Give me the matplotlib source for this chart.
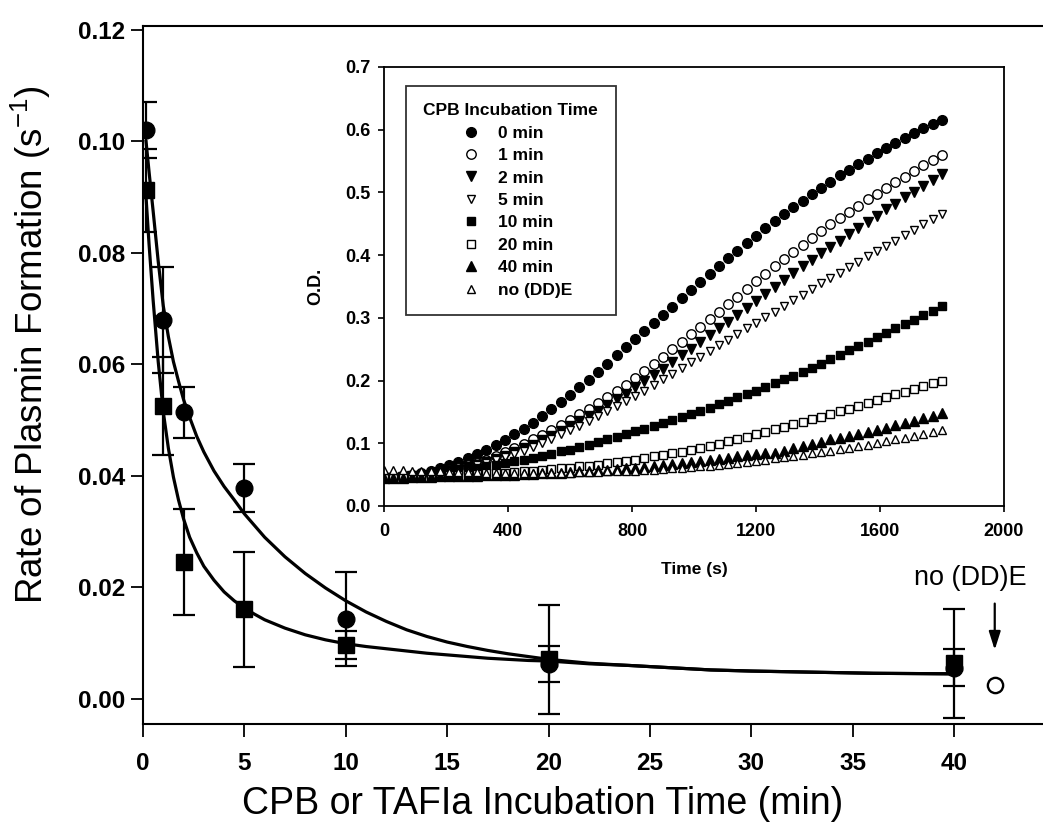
import matplotlib
matplotlib.use('Agg')
import matplotlib.pyplot as plt
import numpy as np

# ---------------- main panel data ----------------
incub_time = [0.15, 1, 2, 5, 10, 20, 40]
rate_circle = [0.102, 0.068, 0.0514, 0.0379, 0.0143, 0.0063, 0.0056]
err_circle = [0.005, 0.0095, 0.0046, 0.0043, 0.0084, 0.0032, 0.0033]
rate_square = [0.0912, 0.0525, 0.0245, 0.0161, 0.0097, 0.0071, 0.0064]
err_square = [0.0075, 0.0088, 0.0095, 0.0103, 0.0025, 0.0098, 0.0098]
no_dde_x = [42.0]
no_dde_rate = [0.0025]

# fitted curves
fit_x = [0.15, 0.3, 0.5, 0.75, 1.0, 1.25, 1.5, 1.75, 2.0, 2.3, 2.65, 3.0, 3.5, 4.0,
         4.5, 5.0, 5.5, 6.0, 7.0, 8.0, 9.0, 10.0, 11.0, 12.0, 13.0, 14.0, 15.0,
         16.0, 17.0, 18.0, 19.0, 20.0, 22.0, 24.0, 26.0, 28.0, 30.0, 33.0, 36.0, 40.0]
fit_circle_y = [0.100, 0.0945, 0.0875, 0.0785, 0.0705, 0.065, 0.0605, 0.057, 0.0537,
                0.0505, 0.0471, 0.0443, 0.0409, 0.0381, 0.0357, 0.0332, 0.0311,
                0.0290, 0.0255, 0.0225, 0.0199, 0.0176, 0.0156, 0.0139, 0.0124,
                0.0112, 0.0102, 0.0094, 0.0087, 0.0081, 0.0076, 0.0071, 0.0064,
                0.0060, 0.0056, 0.0052, 0.0050, 0.0048, 0.0046, 0.0045]
fit_square_y = [0.090, 0.0815, 0.0715, 0.0605, 0.0515, 0.0450, 0.0398, 0.0357,
                0.0323, 0.0290, 0.0262, 0.0238, 0.0213, 0.0192, 0.0176, 0.0163,
                0.0152, 0.0142, 0.0127, 0.0115, 0.0106, 0.0099, 0.0094, 0.0090,
                0.0086, 0.0082, 0.0079, 0.0076, 0.0073, 0.0071, 0.0069, 0.0068,
                0.0063, 0.0060, 0.0056, 0.0052, 0.0050, 0.0048, 0.0046, 0.0045]

# ---------------- inset data ----------------
time_s = np.arange(0, 1801, 30)
od_0min = [0.045, 0.046, 0.047, 0.049, 0.052, 0.056, 0.060, 0.065, 0.070, 0.076,
           0.083, 0.090, 0.097, 0.105, 0.114, 0.123, 0.133, 0.143, 0.154, 0.165,
           0.177, 0.189, 0.201, 0.214, 0.227, 0.240, 0.253, 0.266, 0.279, 0.292,
           0.305, 0.318, 0.331, 0.344, 0.357, 0.370, 0.383, 0.395, 0.407, 0.419,
           0.431, 0.443, 0.454, 0.465, 0.476, 0.487, 0.497, 0.507, 0.517, 0.527,
           0.536, 0.545, 0.554, 0.563, 0.571, 0.579, 0.587, 0.595, 0.602, 0.609, 0.616]
od_1min = [0.045, 0.045, 0.046, 0.047, 0.049, 0.051, 0.054, 0.057, 0.061, 0.065,
           0.069, 0.074, 0.080, 0.086, 0.092, 0.099, 0.106, 0.113, 0.121, 0.129,
           0.137, 0.146, 0.155, 0.164, 0.173, 0.183, 0.193, 0.204, 0.215, 0.226,
           0.238, 0.250, 0.262, 0.274, 0.286, 0.298, 0.310, 0.322, 0.334, 0.346,
           0.358, 0.370, 0.382, 0.394, 0.405, 0.416, 0.427, 0.438, 0.449, 0.459,
           0.469, 0.479, 0.489, 0.498, 0.507, 0.516, 0.525, 0.534, 0.543, 0.552, 0.560]
od_2min = [0.045, 0.045, 0.046, 0.047, 0.048, 0.050, 0.052, 0.055, 0.058, 0.062,
           0.066, 0.070, 0.075, 0.080, 0.086, 0.092, 0.098, 0.105, 0.112, 0.119,
           0.127, 0.135, 0.143, 0.152, 0.161, 0.170, 0.179, 0.189, 0.199, 0.209,
           0.219, 0.229, 0.240, 0.250, 0.261, 0.272, 0.283, 0.294, 0.305, 0.316,
           0.327, 0.338, 0.349, 0.360, 0.371, 0.382, 0.392, 0.403, 0.413, 0.423,
           0.433, 0.443, 0.453, 0.463, 0.473, 0.482, 0.492, 0.501, 0.511, 0.520, 0.530]
od_5min = [0.045, 0.045, 0.046, 0.047, 0.048, 0.050, 0.052, 0.055, 0.058, 0.061,
           0.065, 0.069, 0.073, 0.078, 0.083, 0.088, 0.094, 0.100, 0.107, 0.114,
           0.121, 0.128, 0.135, 0.143, 0.151, 0.159, 0.167, 0.175, 0.184, 0.193,
           0.202, 0.211, 0.220, 0.229, 0.238, 0.247, 0.256, 0.265, 0.274, 0.283,
           0.292, 0.301, 0.310, 0.319, 0.328, 0.337, 0.346, 0.355, 0.363, 0.372,
           0.381, 0.389, 0.398, 0.406, 0.415, 0.423, 0.432, 0.440, 0.449, 0.457, 0.466]
od_10min = [0.045, 0.046, 0.047, 0.048, 0.050, 0.051, 0.053, 0.055, 0.057, 0.059,
            0.061, 0.063, 0.066, 0.068, 0.071, 0.074, 0.077, 0.080, 0.083, 0.087,
            0.090, 0.094, 0.098, 0.102, 0.106, 0.110, 0.114, 0.119, 0.123, 0.128,
            0.132, 0.137, 0.142, 0.147, 0.152, 0.157, 0.162, 0.168, 0.173, 0.179,
            0.184, 0.190, 0.196, 0.202, 0.208, 0.214, 0.220, 0.227, 0.234, 0.241,
            0.248, 0.255, 0.262, 0.269, 0.276, 0.283, 0.290, 0.297, 0.304, 0.311, 0.319]
od_20min = [0.045, 0.045, 0.046, 0.046, 0.047, 0.047, 0.048, 0.049, 0.049, 0.050,
            0.051, 0.052, 0.052, 0.053, 0.054, 0.055, 0.056, 0.058, 0.059, 0.060,
            0.061, 0.063, 0.064, 0.066, 0.068, 0.070, 0.072, 0.074, 0.077, 0.079,
            0.081, 0.084, 0.086, 0.089, 0.092, 0.096, 0.099, 0.103, 0.107, 0.110,
            0.114, 0.118, 0.122, 0.126, 0.130, 0.134, 0.138, 0.142, 0.147, 0.151,
            0.155, 0.160, 0.164, 0.169, 0.173, 0.178, 0.182, 0.187, 0.191, 0.196, 0.200]
od_40min = [0.045, 0.045, 0.045, 0.046, 0.046, 0.046, 0.047, 0.047, 0.047, 0.048,
            0.048, 0.049, 0.049, 0.050, 0.050, 0.051, 0.051, 0.052, 0.053, 0.053,
            0.054, 0.055, 0.056, 0.057, 0.058, 0.059, 0.060, 0.061, 0.062, 0.064,
            0.065, 0.067, 0.068, 0.070, 0.071, 0.073, 0.075, 0.077, 0.079, 0.081,
            0.083, 0.084, 0.085, 0.088, 0.092, 0.095, 0.099, 0.102, 0.106, 0.109,
            0.112, 0.115, 0.118, 0.121, 0.125, 0.129, 0.132, 0.136, 0.140, 0.144, 0.148]
od_nodde = [0.058, 0.057, 0.057, 0.056, 0.056, 0.055, 0.055, 0.054, 0.054, 0.054,
            0.054, 0.053, 0.053, 0.053, 0.053, 0.053, 0.053, 0.053, 0.053, 0.053,
            0.053, 0.054, 0.054, 0.054, 0.055, 0.055, 0.056, 0.056, 0.057, 0.058,
            0.059, 0.060, 0.061, 0.062, 0.063, 0.064, 0.066, 0.067, 0.069, 0.070,
            0.072, 0.074, 0.076, 0.078, 0.080, 0.082, 0.084, 0.086, 0.088, 0.091,
            0.093, 0.095, 0.098, 0.100, 0.103, 0.106, 0.109, 0.112, 0.115, 0.118, 0.121]

inset_labels = ['0 min', '1 min', '2 min', '5 min', '10 min', '20 min', '40 min', 'no (DD)E']
inset_series = [od_0min, od_1min, od_2min, od_5min, od_10min, od_20min, od_40min, od_nodde]
inset_markers = ['o', 'o', 'v', 'v', 's', 's', '^', '^']
inset_filled = [True, False, True, False, True, False, True, False]
inset_msize = [7.0, 6.8, 6.8, 6.3, 6.0, 6.0, 6.8, 6.3]

FONT = ['Liberation Sans', 'DejaVu Sans']
plt.rcParams['font.family'] = FONT

fig = plt.figure(figsize=(10.43, 8.25), dpi=100)

# ---------------- main axes ----------------
ax = fig.add_axes([0.1371, 0.1224, 0.8629, 0.8461])
ax.plot(fit_x, fit_circle_y, color='black', lw=2.3, zorder=2)
ax.plot(fit_x, fit_square_y, color='black', lw=2.3, zorder=2)
ax.errorbar(incub_time, rate_circle, yerr=err_circle, fmt='o', color='black',
            ms=12, elinewidth=1.6, capsize=8, capthick=1.6, zorder=3)
ax.errorbar(incub_time, rate_square, yerr=err_square, fmt='s', color='black',
            ms=11, elinewidth=1.6, capsize=8, capthick=1.6, zorder=3)
ax.plot(no_dde_x, no_dde_rate, 'o', mfc='white', mec='black', mew=1.7, ms=11,
        clip_on=False, zorder=4)
ax.annotate('', xy=(42.0, 0.0083), xytext=(42.0, 0.0176),
            arrowprops=dict(arrowstyle='-|>,head_length=1.1,head_width=0.35',
                            color='black', lw=1.6))
ax.text(40.8, 0.0217, 'no (DD)E', fontsize=19.5, ha='center', va='center')

ax.set_xlim(0, 44.38)
ax.set_ylim(-0.0045, 0.1207)
ax.set_xticks([0, 5, 10, 15, 20, 25, 30, 35, 40])
ax.set_yticks([0.00, 0.02, 0.04, 0.06, 0.08, 0.10, 0.12])
ax.set_yticklabels(['0.00', '0.02', '0.04', '0.06', '0.08', '0.10', '0.12'])
ax.tick_params(axis='x', direction='out', length=9, width=1.3, pad=11, labelsize=17.5)
ax.tick_params(axis='y', direction='out', length=9, width=1.3, pad=4, labelsize=17.5)
for lab in ax.get_xticklabels() + ax.get_yticklabels():
    lab.set_fontweight('bold')
ax.spines['right'].set_visible(False)
for s in ['left', 'bottom', 'top']:
    ax.spines[s].set_linewidth(1.5)
ax.set_xlabel('CPB or TAFIa Incubation Time (min)', fontsize=27)
ax.xaxis.set_label_coords(0.444, -0.089)
ax.set_ylabel(r'Rate of Plasmin Formation (s$^{\mathregular{-1}}$)', fontsize=26.5)
ax.yaxis.set_label_coords(-0.1, 0.543)

# ---------------- inset axes ----------------
ins = fig.add_axes([0.3682, 0.3867, 0.5944, 0.5321])
for lab, ser, mk, filled, msz in zip(inset_labels, inset_series, inset_markers,
                                     inset_filled, inset_msize):
    ins.plot(time_s, ser, linestyle='none', marker=mk, ms=msz,
             mfc='black' if filled else 'white', mec='black', mew=1.0, label=lab)
ins.set_xlim(0, 2000)
ins.set_ylim(0, 0.7)
ins.set_xticks([0, 400, 800, 1200, 1600, 2000])
ins.set_yticks([0.0, 0.1, 0.2, 0.3, 0.4, 0.5, 0.6, 0.7])
ins.set_yticklabels(['0.0', '0.1', '0.2', '0.3', '0.4', '0.5', '0.6', '0.7'])
ins.tick_params(axis='x', direction='out', length=4, width=1.2, labelsize=13, pad=8)
ins.tick_params(axis='y', direction='out', length=4, width=1.2, labelsize=13, pad=6)
for lab in ins.get_xticklabels() + ins.get_yticklabels():
    lab.set_fontweight('bold')
for s in ins.spines.values():
    s.set_linewidth(1.3)
ins.set_xlabel('Time (s)', fontsize=12.5, fontweight='bold', labelpad=16)
ins.set_ylabel('O.D.', fontsize=13, fontweight='bold', labelpad=15)

leg = ins.legend(title='CPB Incubation Time', loc='upper left',
                 bbox_to_anchor=(0.0355, 0.957),
                 title_fontproperties={'weight': 'bold', 'size': 12.5},
                 prop={'weight': 'bold', 'size': 12.5},
                 frameon=True, fancybox=False, edgecolor='black',
                 handlelength=2.4, handletextpad=0.35, labelspacing=0.42,
                 borderpad=1.0, borderaxespad=0)
leg.get_frame().set_linewidth(1.3)

fig.savefig('out.png', dpi=100)
